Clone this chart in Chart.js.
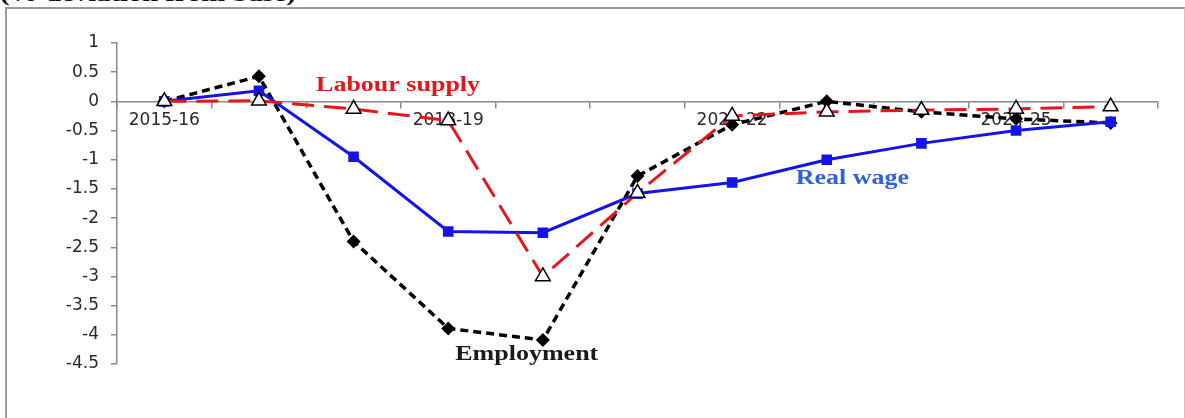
<!DOCTYPE html>
<html>
<head>
<meta charset="utf-8">
<script src="https://cdn.jsdelivr.net/npm/chart.js@4.4.1/dist/chart.umd.min.js"></script>
<style>
  html, body { margin: 0; padding: 0; background: #fff; overflow: hidden; }
  #wrap { position: relative; width: 1185px; height: 418px; overflow: hidden; }
  #frame {
    position: absolute; left: 5px; top: 7px; width: 1177px; height: 440px;
    border-left: 2px solid #9a9a9a; border-top: 2px solid #9a9a9a; border-right: 1px solid #c8c8c8;
  }
  #caption {
    position: absolute; left: 0; top: -20px; white-space: nowrap;
    font: bold 22px "Liberation Serif", "Times New Roman", serif; line-height: 28px;
    color: #111; transform: scaleX(1.3); transform-origin: left top;
  }
  canvas { position: absolute; left: 0; top: 0; }
</style>
</head>
<body>
<div id="wrap">
  <div id="frame"></div>
  <div id="caption">(% deviation from base)</div>
  <canvas id="chart" width="1185" height="418"></canvas>
</div>
<script>
// ===== DATA =====
const years = ["2015-16", "2016-17", "2017-18", "2018-19", "2019-20", "2020-21",
               "2021-22", "2022-23", "2023-24", "2024-25", "2025-26"];
const realWage     = [0, 0.18, -0.95, -2.23, -2.25, -1.58, -1.39, -1.0, -0.72, -0.5, -0.35];
const employment   = [0, 0.43, -2.4, -3.89, -4.09, -1.28, -0.4, 0.0, -0.18, -0.3, -0.37];
const labourSupply = [0, 0.01, -0.13, -0.33, -3.0, -1.57, -0.25, -0.18, -0.15, -0.13, -0.09];
const yTicks = [1, 0.5, 0, -0.5, -1, -1.5, -2, -2.5, -3, -3.5, -4, -4.5];

// ===== SERIES NAMES DRAWN ON THE PLOT =====
const notes = [
  { text: "Labour supply", x: 2.47, y: 0.26, color: "#e4161c" },
  { text: "Real wage", x: 7.27, y: -1.32, color: "#2f63dc" },
  { text: "Employment", x: 3.83, y: -4.35, color: "#1a1a1a" },
];

const notesPlugin = {
  id: "notes",
  afterDatasetsDraw(chart) {
    const { ctx, scales } = chart;
    ctx.save();
    ctx.font = "bold 20px 'Liberation Serif', 'Times New Roman', serif";
    ctx.textAlign = "center";
    ctx.textBaseline = "middle";
    notes.forEach(n => {
      ctx.save();
      ctx.translate(scales.x.getPixelForValue(n.x), scales.y.getPixelForValue(n.y));
      ctx.scale(1.3, 1);
      ctx.fillStyle = n.color;
      ctx.fillText(n.text, 0, 0);
      ctx.restore();
    });
    ctx.restore();
  },
};

const axisGray = "#8a8a8a";
const tickFont = { family: "DejaVu Sans", size: 17 };

new Chart(document.getElementById("chart"), {
  type: "line",
  data: {
    labels: years,
    datasets: [
      {
        label: "Labour supply",
        data: labourSupply,
        borderColor: "#e8161c",
        borderWidth: 3,
        borderDash: [22, 10],
        pointStyle: "triangle",
        pointRadius: 8.5,
        pointBackgroundColor: "#fff",
        pointBorderColor: "#000",
        pointBorderWidth: 1.5,
        tension: 0,
      },
      {
        label: "Real wage",
        data: realWage,
        borderColor: "#1414e8",
        backgroundColor: "#1414e8",
        borderWidth: 3,
        pointStyle: "rect",
        pointRadius: 7.5,
        pointBackgroundColor: "#1414e8",
        pointBorderColor: "#1414e8",
        pointBorderWidth: 0,
        tension: 0,
      },
      {
        label: "Employment",
        data: employment,
        borderColor: "#000",
        borderWidth: 3.5,
        borderDash: [8, 5],
        pointStyle: "rectRot",
        pointRadius: 7,
        pointBackgroundColor: "#000",
        pointBorderColor: "#000",
        pointBorderWidth: 0,
        tension: 0,
      },
    ],
  },
  options: {
    responsive: false,
    animation: false,
    layout: { padding: { top: 43, right: 27, bottom: 54, left: 0 } },
    plugins: {
      legend: { display: false },
      tooltip: { enabled: false },
    },
    scales: {
      x: {
        type: "category",
        offset: true,
        position: { y: 0 },
        grid: {
          display: true,
          drawOnChartArea: false,
          drawTicks: true,
          offset: true,
          tickLength: 6,
          color: axisGray,
          lineWidth: 1.5,
        },
        border: { color: axisGray, width: 1.5 },
        ticks: {
          autoSkip: false,
          maxRotation: 0,
          minRotation: 0,
          padding: 3,
          color: "#2a2a2a",
          font: tickFont,
          callback: (v, i) => (i % 3 === 0 ? years[i] : ""),
        },
      },
      y: {
        min: yTicks[yTicks.length - 1],
        max: yTicks[0],
        afterFit: (scale) => { scale.width = 117; },
        afterBuildTicks: (scale) => { scale.ticks = yTicks.map(v => ({ value: v })); },
        grid: {
          display: true,
          drawOnChartArea: false,
          drawTicks: true,
          tickLength: 6,
          color: axisGray,
          lineWidth: 1.5,
        },
        border: { color: axisGray, width: 1.5 },
        ticks: {
          padding: 12,
          color: "#2a2a2a",
          font: tickFont,
          callback: (v) => String(Math.round(v * 10) / 10),
        },
      },
    },
  },
  plugins: [notesPlugin],
});
</script>
</body>
</html>
